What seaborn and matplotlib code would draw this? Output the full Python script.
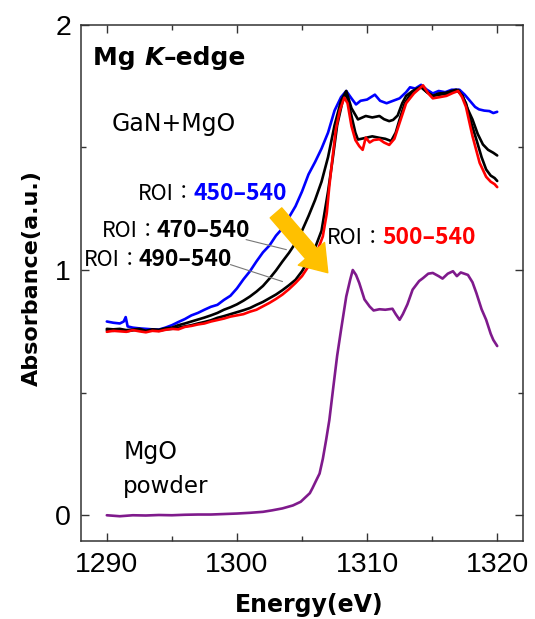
#!/usr/bin/env python3

import numpy as np
import pandas as pd
import seaborn as sns
import matplotlib
matplotlib.use("Agg")
import matplotlib.pyplot as plt
from matplotlib.patches import FancyArrowPatch, ArrowStyle
from matplotlib.offsetbox import TextArea, HPacker, AnnotationBbox
from matplotlib.ticker import MultipleLocator

# --- data ----------------------------------------------------------------
e_450 = [1290.0, 1290.5, 1291.0, 1291.3, 1291.45, 1291.6, 1292.0, 1292.5, 1293.0, 1293.5,
         1294.0, 1294.5, 1295.0, 1295.5, 1296.0, 1296.5, 1297.0, 1297.5, 1298.0, 1298.5,
         1299.0, 1299.5, 1300.0, 1300.5, 1301.0, 1301.5, 1302.0, 1302.5, 1303.0, 1303.5,
         1304.0, 1304.5, 1305.0, 1305.5, 1306.0, 1306.5, 1307.0, 1307.5, 1308.0, 1308.4,
         1308.8, 1309.15, 1309.5, 1310.0, 1310.6, 1311.0, 1311.5, 1312.0, 1312.5, 1313.0,
         1313.3, 1313.7, 1314.15, 1314.6, 1315.05, 1315.5, 1316.0, 1316.5, 1317.1, 1317.5,
         1317.9, 1318.3, 1318.6, 1319.0, 1319.4, 1319.7, 1320.0]
a_450 = [0.790, 0.785, 0.782, 0.790, 0.808, 0.770, 0.765, 0.762, 0.760, 0.758,
         0.757, 0.765, 0.775, 0.788, 0.800, 0.815, 0.825, 0.838, 0.850, 0.858,
         0.878, 0.895, 0.925, 0.962, 0.995, 1.035, 1.072, 1.100, 1.140, 1.170,
         1.215, 1.260, 1.320, 1.390, 1.440, 1.495, 1.560, 1.650, 1.705, 1.730,
         1.700, 1.675, 1.690, 1.695, 1.715, 1.690, 1.680, 1.690, 1.700, 1.725,
         1.745, 1.740, 1.755, 1.735, 1.720, 1.730, 1.725, 1.735, 1.735, 1.715,
         1.690, 1.665, 1.655, 1.650, 1.648, 1.640, 1.645]

e_470 = [1290.0, 1290.5, 1291.0, 1291.5, 1292.0, 1292.5, 1293.0, 1293.5, 1294.0, 1294.5,
         1295.0, 1295.5, 1296.0, 1296.5, 1297.0, 1297.5, 1298.0, 1298.5, 1299.0, 1299.5,
         1300.0, 1300.5, 1301.0, 1301.5, 1302.0, 1302.5, 1303.0, 1303.5, 1304.0, 1304.5,
         1305.0, 1305.5, 1306.0, 1306.5, 1307.0, 1307.5, 1308.0, 1308.4, 1308.8, 1309.3,
         1309.9, 1310.4, 1310.95, 1311.3, 1311.7, 1312.0, 1312.35, 1312.7, 1313.0, 1313.5,
         1314.15, 1314.6, 1315.05, 1315.5, 1316.0, 1316.5, 1316.85, 1317.35, 1317.7, 1318.1,
         1318.5, 1318.9, 1319.3, 1319.7, 1320.0]
a_470 = [0.760, 0.758, 0.760, 0.755, 0.757, 0.760, 0.752, 0.758, 0.756, 0.762,
         0.765, 0.775, 0.782, 0.790, 0.798, 0.806, 0.815, 0.825, 0.838, 0.848,
         0.860, 0.875, 0.892, 0.912, 0.935, 0.965, 0.998, 1.035, 1.070, 1.110,
         1.160, 1.220, 1.285, 1.360, 1.460, 1.590, 1.690, 1.730, 1.660, 1.614,
         1.628, 1.622, 1.628, 1.615, 1.607, 1.612, 1.630, 1.680, 1.710, 1.730,
         1.748, 1.725, 1.710, 1.720, 1.722, 1.730, 1.735, 1.710, 1.660, 1.614,
         1.555, 1.512, 1.490, 1.478, 1.467]

e_490 = [1290.0, 1290.5, 1291.0, 1291.5, 1292.0, 1292.5, 1293.0, 1293.5, 1294.0, 1294.5,
         1295.0, 1295.5, 1296.0, 1296.5, 1297.0, 1297.5, 1298.0, 1298.5, 1299.0, 1299.5,
         1300.0, 1300.5, 1301.0, 1301.5, 1302.0, 1302.5, 1303.0, 1303.5, 1304.0, 1304.5,
         1305.0, 1305.5, 1306.0, 1306.5, 1307.0, 1307.35, 1307.7, 1308.15, 1308.4, 1308.75,
         1309.1, 1309.3, 1309.9, 1310.4, 1310.95, 1311.4, 1311.85, 1312.2, 1312.5, 1312.9,
         1313.25, 1313.7, 1314.15, 1314.6, 1315.05, 1315.6, 1316.2, 1316.6, 1317.0, 1317.3,
         1317.6, 1318.0, 1318.4, 1318.8, 1319.15, 1319.5, 1319.8, 1320.0]
a_490 = [0.755, 0.752, 0.756, 0.750, 0.754, 0.758, 0.750, 0.755, 0.752, 0.758,
         0.760, 0.765, 0.770, 0.775, 0.782, 0.788, 0.795, 0.805, 0.812, 0.820,
         0.828, 0.836, 0.845, 0.858, 0.870, 0.885, 0.900, 0.918, 0.938, 0.960,
         0.995, 1.040, 1.090, 1.160, 1.320, 1.450, 1.590, 1.696, 1.720, 1.640,
         1.560, 1.532, 1.539, 1.545, 1.539, 1.535, 1.526, 1.560, 1.614, 1.680,
         1.710, 1.730, 1.745, 1.725, 1.710, 1.715, 1.720, 1.728, 1.734, 1.710,
         1.680, 1.600, 1.532, 1.460, 1.410, 1.385, 1.375, 1.363]

e_500 = [1290.0, 1290.5, 1291.0, 1291.5, 1292.0, 1292.5, 1293.0, 1293.5, 1294.0, 1294.5,
         1295.0, 1295.5, 1296.0, 1296.5, 1297.0, 1297.5, 1298.0, 1298.5, 1299.0, 1299.5,
         1300.0, 1300.5, 1301.0, 1301.5, 1302.0, 1302.5, 1303.0, 1303.5, 1304.0, 1304.5,
         1305.0, 1305.5, 1305.8, 1306.2, 1306.6, 1306.9, 1307.1, 1307.35, 1307.6, 1307.9,
         1308.25, 1308.5, 1308.8, 1309.1, 1309.4, 1309.66, 1309.9, 1310.2, 1310.5, 1310.95,
         1311.3, 1311.7, 1312.1, 1312.5, 1313.0, 1313.6, 1314.3, 1314.7, 1315.05, 1315.6,
         1316.1, 1316.6, 1317.0, 1317.3, 1317.6, 1318.1, 1318.65, 1319.15, 1319.5, 1319.8,
         1320.0]
a_500 = [0.748, 0.752, 0.750, 0.748, 0.755, 0.750, 0.746, 0.752, 0.750, 0.756,
         0.760, 0.758, 0.768, 0.772, 0.778, 0.782, 0.790, 0.796, 0.802, 0.810,
         0.815, 0.820, 0.830, 0.838, 0.852, 0.866, 0.882, 0.900, 0.922, 0.947,
         0.975, 1.015, 1.042, 1.080, 1.137, 1.230, 1.342, 1.460, 1.573, 1.650,
         1.703, 1.680, 1.587, 1.530, 1.505, 1.490, 1.540, 1.520, 1.530, 1.533,
         1.520, 1.510, 1.535, 1.600, 1.680, 1.720, 1.753, 1.720, 1.700, 1.705,
         1.710, 1.722, 1.730, 1.705, 1.665, 1.546, 1.437, 1.380, 1.360, 1.350,
         1.338]

e_mgo = [1290.0, 1290.5, 1291.0, 1291.5, 1292.0, 1293.0, 1294.0, 1295.0, 1296.0, 1297.0,
         1298.0, 1299.0, 1300.0, 1301.0, 1302.0, 1302.7, 1303.5, 1304.3, 1304.9, 1305.3,
         1305.6, 1305.8, 1306.1, 1306.35, 1306.6, 1306.85, 1307.1, 1307.4, 1307.7, 1308.0,
         1308.4, 1308.7, 1308.9, 1309.15, 1309.4, 1309.8, 1310.2, 1310.5, 1310.95, 1311.4,
         1311.95, 1312.2, 1312.5, 1312.75, 1313.1, 1313.5, 1314.0, 1314.3, 1314.7, 1315.05,
         1315.5, 1315.8, 1316.2, 1316.6, 1316.9, 1317.2, 1317.75, 1318.1, 1318.4, 1318.8,
         1319.15, 1319.5, 1319.7, 1320.0]
a_mgo = [0.000, -0.002, -0.004, -0.002, 0.000, -0.001, 0.001, 0.000, 0.002, 0.003,
         0.003, 0.005, 0.007, 0.010, 0.014, 0.020, 0.028, 0.040, 0.055, 0.075,
         0.090, 0.110, 0.143, 0.170, 0.230, 0.306, 0.388, 0.520, 0.650, 0.756,
         0.892, 0.960, 1.000, 0.980, 0.947, 0.880, 0.851, 0.835, 0.840, 0.838,
         0.842, 0.820, 0.797, 0.820, 0.860, 0.920, 0.955, 0.967, 0.985, 0.988,
         0.975, 0.965, 0.985, 0.995, 0.975, 0.990, 0.980, 0.950, 0.906, 0.840,
         0.797, 0.740, 0.715, 0.690]

series_names = ["ROI 450-540", "ROI 470-540", "ROI 490-540", "ROI 500-540", "MgO powder"]
series_colors = ["#0000FF", "#000000", "#000000", "#FF0000", "#7F1A8C"]

frames = []
for name, e, a in zip(series_names,
                      [e_450, e_470, e_490, e_500, e_mgo],
                      [a_450, a_470, a_490, a_500, a_mgo]):
    frames.append(pd.DataFrame({"energy": e, "absorbance": a, "spectrum": name}))
df = pd.concat(frames, ignore_index=True)

# --- figure ----------------------------------------------------------------
sns.set_style("ticks")
plt.rcParams["font.family"] = ["DejaVu Sans", "Noto Sans CJK JP"]
plt.rcParams["text.color"] = "black"
plt.rcParams["axes.labelcolor"] = "black"
plt.rcParams["xtick.color"] = "black"
plt.rcParams["ytick.color"] = "black"
JP = ["Noto Sans CJK JP", "DejaVu Sans"]

fig = plt.figure(figsize=(5.35, 6.19), dpi=100)
ax = fig.add_axes([0.151, 0.126, 0.827, 0.834])

sns.lineplot(data=df, x="energy", y="absorbance", hue="spectrum",
             hue_order=series_names, palette=dict(zip(series_names, series_colors)),
             estimator=None, sort=False, linewidth=1.9, legend=False, ax=ax)

ax.set_xlim(1288, 1322)
ax.set_ylim(-0.105, 2.0)
ax.xaxis.set_major_locator(MultipleLocator(10))
ax.xaxis.set_minor_locator(MultipleLocator(5))
ax.yaxis.set_major_locator(MultipleLocator(1))
ax.yaxis.set_minor_locator(MultipleLocator(0.5))
ax.tick_params(which="both", direction="in", top=True, right=True,
               color="#333333", width=1.0, labelcolor="black")
ax.tick_params(which="major", length=6, labelsize=20.5)
ax.tick_params(axis="x", which="major", pad=8)
ax.tick_params(axis="y", which="major", pad=7)
ax.tick_params(which="minor", length=3.5)
fig.canvas.draw()
plt.setp(ax.get_xticklabels() + ax.get_yticklabels(), family="Liberation Sans")
for sp in ax.spines.values():
    sp.set_color("#333333")
    sp.set_linewidth(1.1)

ax.set_xlabel("Energy(eV)", fontsize=17, fontweight="bold")
ax.set_ylabel("Absorbance(a.u.)", fontsize=16, fontweight="bold")
ax.xaxis.set_label_coords(0.516, -0.124)
ax.xaxis.label.set_va("center")
ax.yaxis.set_label_coords(-0.111, 0.51)
ax.yaxis.label.set_va("center")


def rich_label(parts, xy, size):
    boxes = [TextArea(t, textprops=dict(fontsize=kw.pop("size", size), **kw))
             for t, kw in parts]
    pack = HPacker(children=boxes, align="baseline", pad=0, sep=0)
    ab = AnnotationBbox(pack, xy, xycoords="axes fraction", box_alignment=(0, 0.5),
                        frameon=False, pad=0)
    ax.add_artist(ab)


rich_label([("Mg ", dict(fontweight="bold", color="black")),
            ("K", dict(fontweight="bold", fontstyle="italic", color="black")),
            ("–edge", dict(fontweight="bold", color="black"))], (0.028, 0.936), 18)

ax.text(0.070, 0.808, "GaN+MgO", transform=ax.transAxes, fontsize=17,
        color="black", va="center", ha="left")
ax.text(0.096, 0.173, "MgO", transform=ax.transAxes, fontsize=17,
        color="black", va="center", ha="left")
ax.text(0.096, 0.105, "powder", transform=ax.transAxes, fontsize=16.5,
        color="black", va="center", ha="left")

roi_labels = [("450–540", "#0000FF", (0.129, 0.674)),
              ("470–540", "#000000", (0.047, 0.601)),
              ("490–540", "#000000", (0.006, 0.546)),
              ("500–540", "#FF0000", (0.556, 0.587))]
for num, col, xy in roi_labels:
    rich_label([("ROI", dict(color="black", family=JP, size=15.5)),
                ("：", dict(color="black", family=JP, size=14)),
                (num, dict(color=col, fontweight="bold", family=JP, size=16.5))], xy, 15)

# leader lines from labels to the curves
ax.plot([1300.7, 1303.8], [1.124, 1.083], color="#777777", lw=0.8)
ax.plot([1299.5, 1303.5], [1.022, 0.953], color="#777777", lw=0.8)

# arrow showing the trend with ROI
arrow = FancyArrowPatch((1303.0, 1.233), (1306.98, 0.989),
                        arrowstyle=ArrowStyle.Simple(head_length=18, head_width=25,
                                                     tail_width=11),
                        mutation_scale=1, color="#FFC000", shrinkA=0, shrinkB=0,
                        zorder=5)
ax.add_patch(arrow)

fig.savefig("out.png", dpi=100)
